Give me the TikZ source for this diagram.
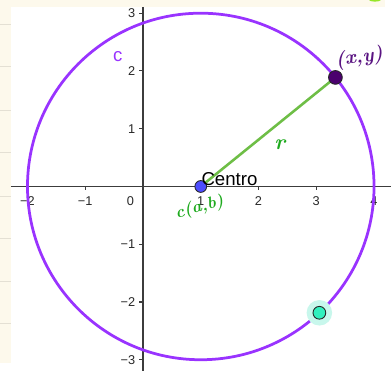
\documentclass[tikz,border=0pt]{standalone}
\usepackage{fontspec}
\setmainfont{Liberation Sans}
\newfontfamily\handfont{Latin Modern Roman}
\definecolor{cream}{RGB}{253,249,236}
\definecolor{paperline}{RGB}{228,224,212}
\definecolor{topgreen}{RGB}{150,230,40}
\definecolor{axisgray}{RGB}{60,60,60}
\definecolor{labelgray}{RGB}{40,40,40}
\definecolor{circ}{RGB}{153,51,255}
\definecolor{seg}{RGB}{110,190,70}
\definecolor{ptblue}{RGB}{77,77,255}
\definecolor{ptpurple}{RGB}{75,0,110}
\definecolor{ptteal}{RGB}{50,240,190}
\definecolor{halo}{RGB}{200,247,236}
\definecolor{handgreen}{RGB}{30,170,30}
\definecolor{handpurple}{RGB}{90,20,130}
\begin{document}
\begin{tikzpicture}[x=58.85pt,y=58.85pt,
  axisline/.style={draw=axisgray,line width=1.3pt},
  axtick/.style={draw=axisgray,line width=1.1pt},
  ticklabel/.style={font=\fontsize{13}{13}\selectfont,text=labelgray,inner sep=0pt},
  dot/.style={circle,draw=black!85,line width=0.9pt,inner sep=0pt},
  handlabel/.style={inner sep=0pt}]
% paper background (pixel coordinates)
\begin{scope}[shift={(-145.7pt,190pt)},x=1pt,y=-1pt]
  \useasboundingbox (0,0) rectangle (392,370);
  \fill[cream] (0,0) rectangle (392,370);
  \fill[white] (11,7) rectangle (392,370);
  \foreach \yy in {25,68,112,155,200,243,287,330}
    \draw[paperline,line width=0.8pt] (0,\yy) -- (11,\yy);
  \fill[topgreen] (382,0) ellipse (6 and 1.6);
\end{scope}
% axes
\draw[axisline] (-2.289,0) -- (4.3,0);
\draw[axisline] (0,3.11) -- (0,-3.2);
\foreach \x in {-2,-1,1,2,3,4} \draw[axtick] (\x,0) -- (\x,-0.068);
\foreach \y in {-3,-2,-1,1,2,3} \draw[axtick] (0,\y) -- (-0.068,\y);
\foreach \x/\t in {-2/−2,-1/−1,1/1,2/2,3/3,4/4}
  \node[ticklabel] (xl\x) at (\x,-0.246) {\t};
\node[ticklabel] (xl0) at (-0.216,-0.246) {0};
\foreach \y/\t in {-3/−3,-2/−2,-1/−1,1/1,2/2,3/3}
  \node[ticklabel,anchor=east] (yl\y) at (-0.131,\y) {\t};
% geometry
\coordinate (C) at (1,0);
\coordinate (P) at ({1+3*cos(39)},{3*sin(39)});
\coordinate (Q) at ({1+3*cos(-46.8)},{3*sin(-46.8)});
\draw[circ,line width=2.8pt] (C) circle (3);
\draw[seg,line width=2.6pt] (C) -- (P);
\node[circle,fill=halo,inner sep=0pt,minimum size=26pt] (Qhalo) at (Q) {};
\node[dot,fill=ptteal,minimum size=13pt] (Qpt) at (Q) {};
\node[dot,fill=ptpurple,minimum size=14pt] (Ppt) at (P) {};
\node[dot,fill=ptblue,minimum size=12pt] (Cpt) at (C) {};
% labels
\node[inner sep=0pt,text=circ,font=\fontsize{19}{19}\selectfont] (clabel) at (-0.437,2.243) {c};
\node[inner sep=0pt,anchor=base west,font=\fontsize{19}{19}\selectfont] (centro) at (1.01,0.017) {Centro};
\node[handlabel,text=handpurple,rotate=8,font=\handfont\bfseries\itshape\fontsize{20}{20}\selectfont] (xy) at (3.744,2.226) {(x,y)};
\node[handlabel,text=handgreen,rotate=15,font=\handfont\bfseries\itshape\fontsize{17}{17}\selectfont] (cab) at (0.98,-0.37) {c(a,b)};
\node[handlabel,text=handgreen,font=\handfont\bfseries\itshape\fontsize{22}{22}\selectfont] (r) at (2.37,0.73) {r};
\end{tikzpicture}
\end{document}
